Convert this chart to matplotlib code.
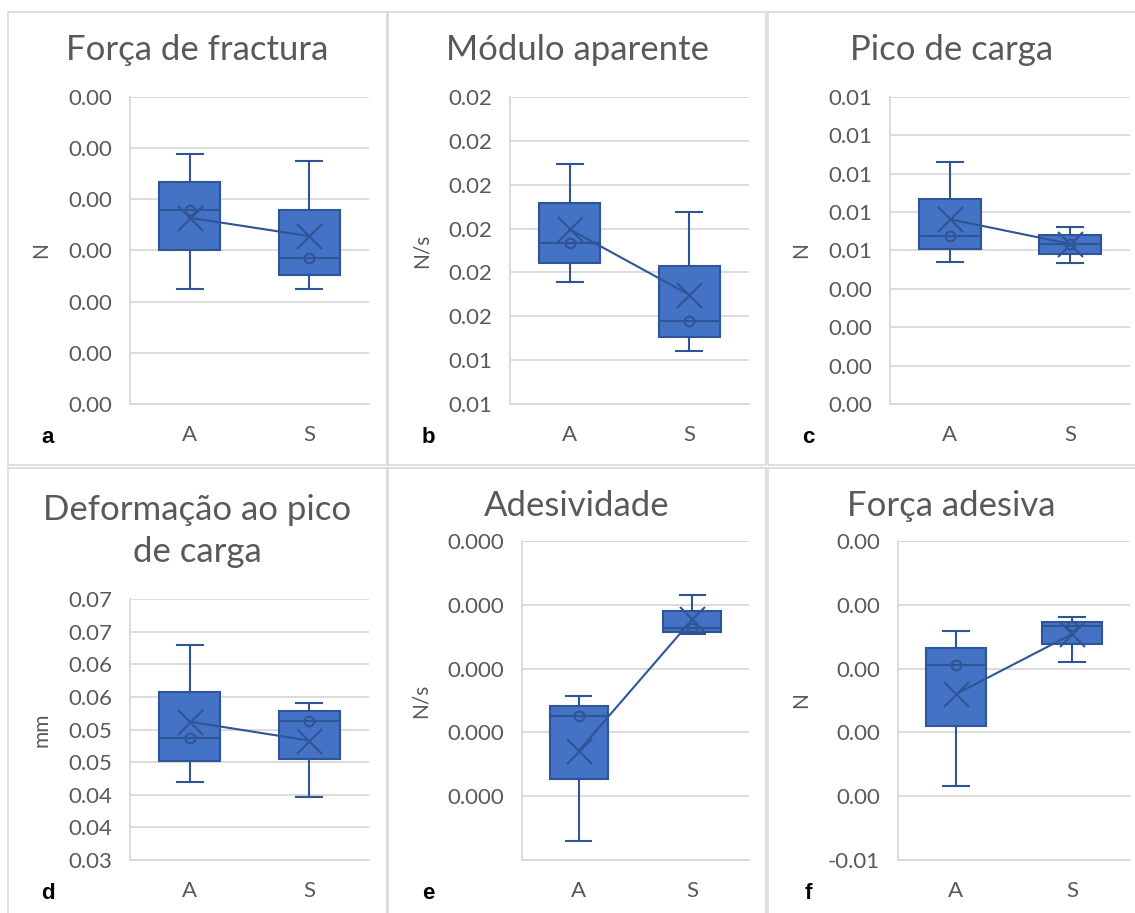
import matplotlib
matplotlib.use("Agg")
import matplotlib.pyplot as plt
from matplotlib.patches import Rectangle

plt.rcParams['font.family'] = ['Lato', 'DejaVu Sans']

groups = ["A", "S"]

titles = ["Força de fractura", "Módulo aparente", "Pico de carga",
          "Deformação ao pico\nde carga", "Adesividade", "Força adesiva"]
ylabels = ["N", "N/s", "N", "mm", "N/s", "N"]
letters = ["a", "b", "c", "d", "e", "f"]

# y-axis ticks (bottom to top) and their labels as shown
yticks_a = [0.0, 0.0005, 0.0010, 0.0015, 0.0020, 0.0025, 0.0030]
ylab_a = ["0.00"] * 7
yticks_b = [0.0135, 0.0145, 0.0155, 0.0165, 0.0175, 0.0185, 0.0195, 0.0205]
ylab_b = ["0.01", "0.01", "0.02", "0.02", "0.02", "0.02", "0.02", "0.02"]
yticks_c = [0.0, 0.0015, 0.0030, 0.0045, 0.0060, 0.0075, 0.0090, 0.0105, 0.0120]
ylab_c = ["0.00", "0.00", "0.00", "0.00", "0.01", "0.01", "0.01", "0.01", "0.01"]
yticks_d = [0.034, 0.039, 0.044, 0.049, 0.054, 0.059, 0.064, 0.069, 0.074]
ylab_d = ["0.03", "0.04", "0.04", "0.05", "0.05", "0.06", "0.06", "0.07", "0.07"]
yticks_e = [-0.0001, 0.0, 0.0001, 0.0002, 0.0003, 0.0004]
ylab_e = ["", "0.000", "0.000", "0.000", "0.000", "0.000"]
yticks_f = [-0.005, -0.004, -0.003, -0.002, -0.001, 0.0]
ylab_f = ["-0.01", "0.00", "0.00", "0.00", "0.00", "0.00"]

# box statistics per group [A, S]
whislo_a = [0.00112, 0.00112]
q1_a = [0.00150, 0.00126]
med_a = [0.00190, 0.00143]
mean_a = [0.00182, 0.00164]
q3_a = [0.00217, 0.00190]
whishi_a = [0.00244, 0.00237]

whislo_b = [0.01628, 0.01471]
q1_b = [0.01671, 0.01503]
med_b = [0.01717, 0.01539]
mean_b = [0.01748, 0.01599]
q3_b = [0.01808, 0.01664]
whishi_b = [0.01897, 0.01788]

whislo_c = [0.00554, 0.00552]
q1_c = [0.00605, 0.00587]
med_c = [0.00656, 0.00626]
mean_c = [0.00722, 0.00626]
q3_c = [0.00800, 0.00660]
whishi_c = [0.00944, 0.00693]

whislo_d = [0.0459, 0.0436]
q1_d = [0.0491, 0.0495]
med_d = [0.0527, 0.0553]
mean_d = [0.0552, 0.0523]
q3_d = [0.0598, 0.0568]
whishi_d = [0.0669, 0.0581]

whislo_e = [-0.000070, 0.000255]
q1_e = [0.000027, 0.000258]
med_e = [0.000126, 0.000264]
mean_e = [0.000071, 0.000277]
q3_e = [0.000141, 0.000290]
whishi_e = [0.000157, 0.000316]

whislo_f = [-0.00384, -0.00189]
q1_f = [-0.00290, -0.00162]
med_f = [-0.00194, -0.00133]
mean_f = [-0.00240, -0.00146]
q3_f = [-0.00167, -0.00127]
whishi_f = [-0.00141, -0.00119]

panels = [
    (yticks_a, ylab_a, whislo_a, q1_a, med_a, mean_a, q3_a, whishi_a),
    (yticks_b, ylab_b, whislo_b, q1_b, med_b, mean_b, q3_b, whishi_b),
    (yticks_c, ylab_c, whislo_c, q1_c, med_c, mean_c, q3_c, whishi_c),
    (yticks_d, ylab_d, whislo_d, q1_d, med_d, mean_d, q3_d, whishi_d),
    (yticks_e, ylab_e, whislo_e, q1_e, med_e, mean_e, q3_e, whishi_e),
    (yticks_f, ylab_f, whislo_f, q1_f, med_f, mean_f, q3_f, whishi_f),
]

W, H = 1135, 913
# plot areas in pixels: left, right, top, bottom
areas = [(130, 369, 97, 404), (510, 749, 97, 404), (890, 1130, 97, 404),
         (130, 369, 599, 860), (522, 749, 541, 860), (898, 1130, 541, 860)]
# panel frames in pixels: left, right, top, bottom
frames = [(8, 387, 12, 465), (388, 766, 12, 465), (768, 1140, 12, 465),
          (8, 387, 468, 920), (388, 766, 468, 920), (768, 1140, 468, 920)]
title_y = [50, 50, 50, 531, 506, 506]

fill = "#4472C4"
edge = "#2F5597"
grid = "#D9D9D9"
txt = "#595959"

fig = plt.figure(figsize=(W / 100, H / 100), dpi=100)

for l, r, t, b in frames:
    fig.add_artist(Rectangle((l / W, 1 - b / H), (r - l) / W, (b - t) / H,
                             transform=fig.transFigure, fill=False,
                             edgecolor=grid, linewidth=1.2))

for i, (yt, yl, wlo, q1, med, mean, q3, whi) in enumerate(panels):
    l, r, t, b = areas[i]
    ax = fig.add_axes([l / W, 1 - b / H, (r - l) / W, (b - t) / H])
    stats = []
    for k, g in enumerate(groups):
        stats.append(dict(label=g, whislo=wlo[k], q1=q1[k], med=med[k],
                          mean=mean[k], q3=q3[k], whishi=whi[k], fliers=[]))
    ax.bxp(stats, positions=[0, 1], widths=0.51, patch_artist=True,
           showmeans=True, showfliers=False,
           boxprops=dict(facecolor=fill, edgecolor=edge, linewidth=1.5),
           medianprops=dict(color=edge, linewidth=1.5),
           whiskerprops=dict(color=edge, linewidth=1.5),
           capprops=dict(color=edge, linewidth=1.5),
           capwidths=0.22,
           meanprops=dict(marker="x", markersize=18, markeredgecolor=edge,
                          markeredgewidth=1.5))
    # mean line and inner point markers
    ax.plot([0, 1], mean, color=edge, linewidth=1.5, zorder=5)
    ax.plot([0, 1], med, linestyle="none", marker="o", markersize=7,
            markerfacecolor="none", markeredgecolor=edge,
            markeredgewidth=1.5, zorder=5)
    ax.set_xlim(-0.5, 1.5)
    ax.set_ylim(yt[0], yt[-1])
    ax.set_yticks(yt, yl)
    ax.set_xticks([0, 1], groups)
    ax.grid(axis="y", color=grid, linewidth=1.3)
    ax.set_axisbelow(True)
    for s in ["top", "right"]:
        ax.spines[s].set_visible(False)
    for s in ["left", "bottom"]:
        ax.spines[s].set_color(grid)
        ax.spines[s].set_linewidth(1.3)
    ax.tick_params(length=0, labelsize=16, labelcolor=txt)
    ax.tick_params(axis="y", pad=13)
    ax.tick_params(axis="x", pad=15)
    ax.set_ylabel(ylabels[i], fontsize=15, color=txt, labelpad=12)

    fl, fr, ft, fb = frames[i]
    cx = (fl + min(fr, W)) / 2
    fig.text(cx / W, 1 - title_y[i] / H, titles[i], fontsize=25, color=txt,
             ha="center", va="center", linespacing=1.35)
    fig.text((fl + 40) / W, 1 - (b + 33) / H, letters[i], fontsize=16,
             fontweight="bold", family="Liberation Sans", ha="center",
             va="center")

fig.savefig("out.png", dpi=100)
